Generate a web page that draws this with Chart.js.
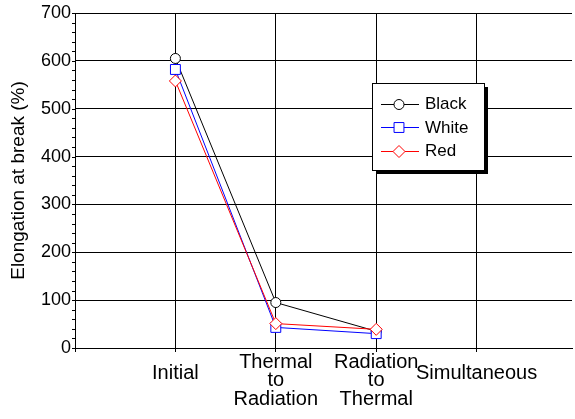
<!DOCTYPE html>
<html>
<head>
<meta charset="utf-8">
<script src="https://cdn.jsdelivr.net/npm/chart.js@4/dist/chart.umd.min.js"></script>
<style>
  html, body { margin: 0; padding: 0; background: #fff; overflow: hidden; }
  /* plot runs off the right edge of the page, so the canvas is a bit wider than the window */
  #wrap { position: relative; width: 580px; height: 419px; }
</style>
</head>
<body>
<div id="wrap"><canvas id="chart"></canvas></div>
<script>
// ===== Data =====
const categories = ['Initial', ['Thermal', 'to', 'Radiation'], ['Radiation', 'to', 'Thermal'], 'Simultaneous'];
const blackValues = [605, 95, 35, null];
const whiteValues = [582, 43, 30, null];
const redValues = [558, 51, 39, null];
const yTicks = [0, 100, 200, 300, 400, 500, 600, 700];

const FONT = "'Liberation Sans', Arial, sans-serif";

// categories sit at x = 1..4 on a linear axis, leaving one empty slot on the left
const toPoints = (vals) => vals.map((v, i) => ({ x: i + 1, y: v }));

const series = [
    { label: 'Black', data: blackValues, color: '#000000', style: 'circle', radius: 5, order: 2 },
    { label: 'White', data: whiteValues, color: '#0000ff', style: 'rect', radius: 7, order: 1 },
    { label: 'Red', data: redValues, color: '#ff0000', style: 'rectRot', radius: 6, order: 0 }
];

// small marker drawer used by the legend box
function drawMarker(ctx, style, x, y, r, color) {
    ctx.save();
    ctx.strokeStyle = color;
    ctx.fillStyle = '#fff';
    ctx.lineWidth = 1;
    ctx.beginPath();
    if (style === 'circle') {
        ctx.arc(x, y, r, 0, Math.PI * 2);
    } else if (style === 'rect') {
        const s = r * Math.SQRT1_2;
        ctx.rect(x - s, y - s, 2 * s, 2 * s);
    } else {
        ctx.moveTo(x, y - r); ctx.lineTo(x + r, y); ctx.lineTo(x, y + r); ctx.lineTo(x - r, y); ctx.closePath();
    }
    ctx.fill();
    ctx.stroke();
    ctx.restore();
}

// minor tick marks on the value axis every 20
const minorTicks = {
    id: 'minorTicks',
    afterDraw(chart) {
        const { ctx, scales: { y }, chartArea } = chart;
        ctx.save();
        ctx.strokeStyle = '#000';
        ctx.lineWidth = 1;
        for (let v = 0; v <= 700; v += 20) {
            const py = Math.round(y.getPixelForValue(v)) + 0.5;
            ctx.beginPath();
            ctx.moveTo(chartArea.left - 3, py);
            ctx.lineTo(chartArea.left, py);
            ctx.stroke();
        }
        ctx.restore();
    }
};

// boxed legend with drop shadow inside the plot
const boxLegend = {
    id: 'boxLegend',
    afterDraw(chart) {
        const ctx = chart.ctx;
        const bx = 372, by = 83, bw = 112, bh = 87;
        ctx.save();
        ctx.fillStyle = '#000';
        ctx.fillRect(bx + 4, by + 4, bw, bh);
        ctx.fillStyle = '#fff';
        ctx.fillRect(bx, by, bw, bh);
        ctx.strokeStyle = '#000';
        ctx.lineWidth = 1;
        ctx.strokeRect(bx + 0.5, by + 0.5, bw, bh);
        ctx.font = '17px ' + FONT;
        ctx.textBaseline = 'middle';
        series.forEach((s, i) => {
            const ly = by + 20.5 + i * 23.5;
            ctx.strokeStyle = s.color;
            ctx.beginPath();
            ctx.moveTo(bx + 9, Math.round(ly) + 0.5);
            ctx.lineTo(bx + 47, Math.round(ly) + 0.5);
            ctx.stroke();
            drawMarker(ctx, s.style, bx + 27, Math.round(ly) + 0.5, s.radius, s.color);
            ctx.fillStyle = '#000';
            ctx.fillText(s.label, bx + 53, ly + 1);
        });
        ctx.restore();
    }
};

new Chart(document.getElementById('chart'), {
    type: 'line',
    data: {
        datasets: series.map(s => ({
            label: s.label,
            data: toPoints(s.data),
            borderColor: s.color,
            backgroundColor: '#fff',
            borderWidth: 1,
            pointStyle: s.style,
            pointRadius: s.radius,
            pointHoverRadius: s.radius,
            pointBorderWidth: 1,
            pointBackgroundColor: '#fff',
            tension: 0,
            order: s.order
        }))
    },
    options: {
        responsive: true,
        maintainAspectRatio: false,
        animation: false,
        events: [],
        layout: { padding: { left: 0, right: 0, top: 13, bottom: 0 } },
        plugins: { legend: { display: false }, tooltip: { enabled: false } },
        scales: {
            x: {
                type: 'linear',
                min: 0,
                max: 4.95,
                border: { color: '#000', width: 1 },
                grid: { color: '#000', lineWidth: 1, tickLength: 4, tickColor: '#000' },
                ticks: {
                    stepSize: 1,
                    includeBounds: false,
                    autoSkip: false,
                    maxRotation: 0,
                    padding: 1,
                    color: '#000',
                    font: (ctx) => {
                        const lbl = categories[ctx.tick ? ctx.tick.value - 1 : -1];
                        return { family: FONT, size: 20, lineHeight: Array.isArray(lbl) ? '18.5px' : '40.5px' };
                    },
                    callback: (v) => categories[v - 1] !== undefined ? categories[v - 1] : ''
                },
                afterFit: (scale) => {
                    scale.height = 71;
                    scale.paddingLeft = 0;
                    scale.paddingRight = 0;
                }
            },
            y: {
                min: 0,
                max: 700,
                border: { color: '#000', width: 1 },
                grid: { color: '#000', lineWidth: 1, drawTicks: false },
                afterBuildTicks: (scale) => { scale.ticks = yTicks.map(v => ({ value: v })); },
                ticks: { padding: 4, color: '#000', font: { family: FONT, size: 18 } },
                title: {
                    display: true,
                    text: 'Elongation at break (%)',
                    color: '#000',
                    font: { family: FONT, size: 19 },
                    padding: { top: 7, bottom: 0 }
                },
                afterFit: (scale) => {
                    scale.width = 75;
                    scale.paddingTop = 0;
                    scale.paddingBottom = 0;
                }
            }
        }
    },
    plugins: [minorTicks, boxLegend]
});
</script>
</body>
</html>
